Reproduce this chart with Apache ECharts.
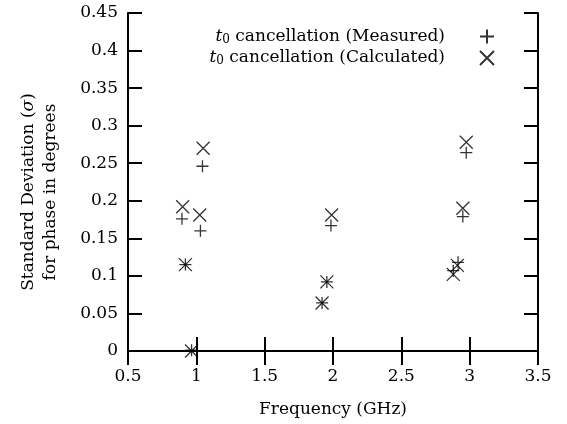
<!DOCTYPE html>
<html>
<head>
<meta charset="utf-8">
<script src="https://cdn.jsdelivr.net/npm/echarts@6/dist/echarts.min.js"></script>
<style>
  html, body { margin: 0; padding: 0; background: #fff; }
  #chart { width: 567px; height: 424px; }
</style>
</head>
<body>
<div id="chart"></div>
<script>
// Phase standard deviation vs frequency, t0 cancellation
const measuredFreq  = [0.965, 0.92, 0.895, 1.03, 1.045, 1.92, 1.955, 1.985, 2.88, 2.915, 2.95, 2.975];
const measuredSigma = [0.001, 0.115, 0.176, 0.160, 0.246, 0.064, 0.092, 0.167, 0.107, 0.118, 0.179, 0.264];
const calcFreq      = [0.965, 0.92, 0.90, 1.025, 1.05, 1.92, 1.955, 1.99, 2.88, 2.91, 2.95, 2.975];
const calcSigma     = [0.0, 0.115, 0.192, 0.181, 0.270, 0.064, 0.092, 0.181, 0.102, 0.114, 0.190, 0.278];
const seriesNames   = ['t0 cancellation (Measured)', 't0 cancellation (Calculated)'];

const FONT = 'DejaVu Serif';
const FS = 17;
const PLUS = 'path://M5,0L5,10M0,5L10,5';
const CROSS = 'path://M0,0L10,10M10,0L0,10';

const pairs = (xs, ys) => xs.map((x, i) => [x, ys[i]]);

const axisLine = { show: true, lineStyle: { color: '#000', width: 2 } };
const axisTick = { show: true, inside: true, length: 14, lineStyle: { color: '#000', width: 2 } };

const chart = echarts.init(document.getElementById('chart'), null, { renderer: 'canvas' });
chart.setOption({
  animation: false,
  backgroundColor: '#fff',
  grid: { left: 128, right: 29, top: 13, bottom: 73 },
  xAxis: [
    {
      type: 'value', min: 0.5, max: 3.5, interval: 0.5,
      axisLine, axisTick, splitLine: { show: false },
      axisLabel: { color: '#000', fontFamily: FONT, fontSize: FS, margin: 17 },
      name: 'Frequency (GHz)', nameLocation: 'middle', nameGap: 50,
      nameTextStyle: { color: '#000', fontFamily: FONT, fontSize: FS }
    },
    {
      type: 'value', position: 'top', min: 0.5, max: 3.5, interval: 0.5,
      axisLine, axisTick, axisLabel: { show: false }, splitLine: { show: false }
    }
  ],
  yAxis: [
    {
      type: 'value', min: 0, max: 0.45, interval: 0.05,
      axisLine, axisTick, splitLine: { show: false },
      axisLabel: { color: '#000', fontFamily: FONT, fontSize: FS, margin: 10 },
      name: '{n|Standard Deviation (}{i|σ}{n|)}\n{n|for phase in degrees}',
      nameLocation: 'middle', nameGap: 66,
      nameTextStyle: {
        color: '#000', fontFamily: FONT, fontSize: FS, lineHeight: 22,
        padding: [0, 20, 0, 0],
        rich: {
          n: { color: '#000', fontFamily: FONT, fontSize: FS, lineHeight: 22 },
          i: { color: '#000', fontFamily: FONT, fontSize: FS, fontStyle: 'italic', lineHeight: 22 }
        }
      }
    },
    {
      type: 'value', position: 'right', min: 0, max: 0.45, interval: 0.05,
      axisLine, axisTick, axisLabel: { show: false }, splitLine: { show: false }
    }
  ],
  legend: {
    orient: 'vertical', right: 67, top: 23, align: 'right',
    itemWidth: 14, itemHeight: 14, itemGap: 4,
    data: [
      { name: seriesNames[0], icon: PLUS },
      { name: seriesNames[1], icon: CROSS }
    ],
    formatter: (name) => {
      const rest = name.slice(2);
      return '{t|t}{s|0}{r|' + rest + '}';
    },
    textStyle: {
      color: '#000', fontFamily: FONT, fontSize: FS,
      padding: [0, 30, 0, 0],
      rich: {
        t: { fontFamily: FONT, fontSize: FS, fontStyle: 'italic', color: '#000' },
        s: { fontFamily: FONT, fontSize: 12, color: '#000', verticalAlign: 'bottom', padding: [6, 0, 0, 0] },
        r: { fontFamily: FONT, fontSize: FS, color: '#000' }
      }
    }
  },
  series: [
    {
      name: seriesNames[0], type: 'scatter', symbol: PLUS, symbolSize: 12,
      data: pairs(measuredFreq, measuredSigma), clip: false,
      itemStyle: { color: 'transparent', borderColor: '#000', borderWidth: 1.3 }
    },
    {
      name: seriesNames[1], type: 'scatter', symbol: CROSS, symbolSize: 13,
      data: pairs(calcFreq, calcSigma), clip: false,
      itemStyle: { color: 'transparent', borderColor: '#000', borderWidth: 1.3 }
    }
  ]
});
</script>
</body>
</html>
